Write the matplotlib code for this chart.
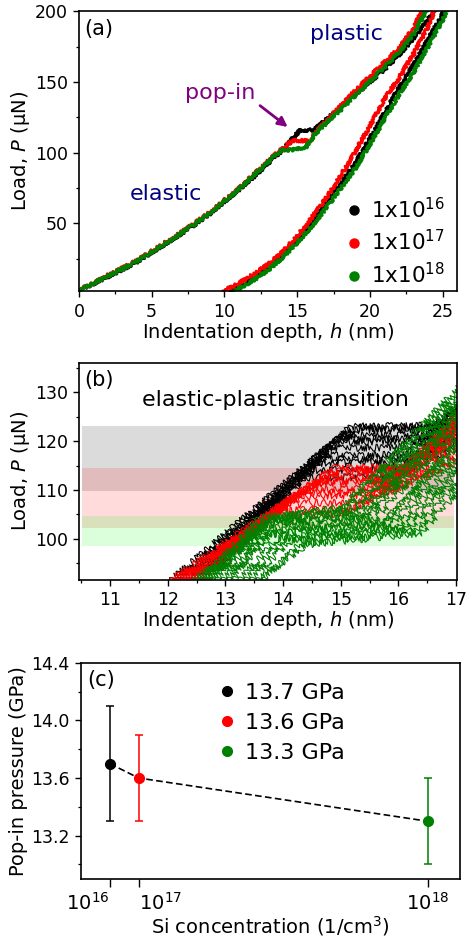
import matplotlib

matplotlib.use('Agg')
import matplotlib.pyplot as plt
from matplotlib.lines import Line2D
from matplotlib.ticker import MultipleLocator, FormatStrFormatter
from matplotlib.transforms import ScaledTranslation

plt.rcParams['font.family'] = ['DejaVu Sans']
plt.rcParams['mathtext.fontset'] = 'dejavusans'

colors = ['black', 'red', 'green']
doses = ['1x10$^{16}$', '1x10$^{17}$', '1x10$^{18}$']

# ---- (a) load-depth curves, loading branch ----
bk_load_h = [0, 1, 2, 3, 4, 5, 6, 7, 8, 9, 10, 11, 12, 13, 14, 14.6, 15.2, 16.1, 16.5, 17, 18, 19, 20, 21, 22, 23, 24, 24.4]
bk_load_P = [2.5, 7.5, 12.5, 17.5, 23, 29.5, 36, 42.5, 49.5, 57, 65.5, 74, 83, 92.5, 102, 109, 116, 116, 119, 123.5, 132, 141, 150, 159, 169, 181, 194, 201]
rd_load_h = [0, 1, 2, 3, 4, 5, 6, 7, 8, 9, 10, 11, 12, 13, 14, 14.7, 15.9, 16.3, 17, 18, 19, 20, 21, 22, 23, 23.6]
rd_load_P = [3, 8, 13.5, 18.5, 24, 30.5, 37, 43.5, 50.5, 58, 66.5, 75, 84.5, 94, 103.5, 108.5, 108.5, 115, 122, 133, 144, 154, 164, 174, 188, 201]
gn_load_h = [0, 1, 2, 3, 4, 5, 6, 7, 8, 9, 10, 11, 12, 13, 14, 14.4, 15.0, 15.6, 16.2, 17, 18, 19, 20, 21, 22, 23, 23.9]
gn_load_P = [2.8, 7.8, 13, 18, 23.5, 30, 36.5, 43, 50, 57.5, 66, 74.5, 84, 93.5, 102.5, 102, 102.5, 104, 113, 121, 130.5, 140.5, 150.5, 160.5, 171, 184, 201]

# ---- (a) unloading branch ----
bk_unl_h = [10.4, 11, 12, 13, 14, 15, 16, 17, 18, 19, 20, 21, 22, 23, 24, 25, 25.1]
bk_unl_P = [2, 5, 11.5, 19, 28, 38.5, 50.5, 64, 78.5, 93, 110, 128, 146, 162, 180, 198, 201]
rd_unl_h = [9.9, 11, 12, 13, 14, 15, 16, 17, 18, 19, 20, 21, 22, 23, 24, 24.45]
rd_unl_P = [2, 8, 14, 21, 30, 41, 54, 68, 84, 101, 119, 138, 153, 170, 189, 201]
gn_unl_h = [10.6, 11, 12, 13, 14, 15, 16, 17, 18, 19, 20, 21, 22, 23, 24, 25, 25.3]
gn_unl_P = [2, 4, 10, 17, 26, 36.5, 48, 61, 75, 89, 106, 124, 141, 157, 175, 194, 201]

# ---- (b) repeated loading traces around the pop-in ----
# start depth (P=91), pop-in load, depth before / after pop-in, load after pop-in, load at h=17
bk_h0 = [12.0, 12.1, 12.2, 12.3, 12.4, 12.5, 12.6, 12.3, 12.15, 12.45, 12.35, 12.55]
bk_P1 = [123.0, 122.2, 121.0, 119.8, 118.5, 117.0, 115.5, 114.0, 122.6, 120.4, 116.2, 112.5]
bk_h1 = [15.2, 15.1, 15.0, 14.9, 14.8, 14.7, 14.6, 14.5, 15.3, 14.95, 14.55, 14.4]
bk_h2 = [16.6, 16.5, 16.5, 16.4, 16.3, 16.2, 16.2, 16.1, 16.7, 16.45, 16.25, 16.0]
bk_P2 = [123.2, 122.4, 121.3, 120.0, 118.8, 117.3, 115.8, 114.3, 122.8, 120.6, 116.5, 112.8]
bk_Pe = [128, 127, 126.5, 125.5, 124.5, 123.5, 122, 121, 127.5, 126, 122.5, 119.5]

rd_h0 = [12.0, 12.1, 12.15, 12.2, 12.3, 12.35, 12.4, 12.5, 12.05, 12.25, 12.45, 12.6]
rd_P1 = [114.5, 113.5, 112.5, 111.3, 110.0, 108.7, 107.2, 105.8, 114.0, 111.8, 109.3, 104.8]
rd_h1 = [14.9, 14.8, 14.7, 14.5, 14.4, 14.2, 14.0, 13.9, 15.0, 14.6, 14.3, 13.8]
rd_h2 = [16.2, 16.0, 15.9, 15.8, 15.6, 15.5, 15.3, 15.2, 16.3, 15.9, 15.7, 15.0]
rd_P2 = [114.8, 113.8, 112.8, 111.6, 110.3, 109.0, 107.5, 106.1, 114.3, 112.1, 109.6, 105.1]
rd_Pe = [126, 125, 124, 122.5, 121, 120, 118.5, 117, 125.5, 123, 121, 116]

gn_h0 = [12.4, 12.5, 12.6, 12.7, 12.8, 12.9, 13.0, 13.2, 13.4, 13.6, 12.55, 12.75, 13.1, 13.3, 12.65, 13.5]
gn_P1 = [104.5, 104.0, 103.5, 103.0, 102.0, 101.5, 101.0, 100.0, 99.5, 99.0, 104.2, 102.6, 100.6, 99.8, 103.8, 98.8]
gn_h1 = [13.9, 13.8, 13.8, 13.7, 13.7, 13.8, 13.8, 13.9, 14.1, 14.3, 13.6, 13.5, 13.6, 14.0, 13.7, 14.4]
gn_h2 = [15.0, 15.2, 15.4, 15.5, 15.6, 15.8, 15.9, 16.0, 16.2, 16.3, 15.1, 15.45, 15.75, 16.1, 15.3, 16.4]
gn_P2 = [106.0, 105.5, 105.0, 104.5, 104.0, 103.5, 103.0, 102.5, 102.0, 101.5, 106.5, 104.8, 103.4, 102.2, 105.8, 101.2]
gn_Pe = [131, 129, 127, 125, 123, 121, 119, 117, 114, 112, 130, 126, 120, 115, 128, 110]

# pop-in load ranges (shaded bands)
band_lo = [109.7, 102.3, 98.6]
band_hi = [123.0, 114.5, 104.7]
band_colors = ['black', 'red', 'lime']

# ---- (c) pop-in pressure ----
si_conc = [1e16, 1e17, 1e18]
si_ticklabels = ['10$^{16}$', '10$^{17}$', '10$^{18}$']
popin_p = [13.7, 13.6, 13.3]
popin_err = [0.4, 0.3, 0.3]
popin_labels = ['13.7 GPa', '13.6 GPa', '13.3 GPa']

fig = plt.figure(figsize=(4.67, 9.4), dpi=100)
ax1 = fig.add_axes([0.169, 0.690, 0.810, 0.298])
ax2 = fig.add_axes([0.169, 0.383, 0.810, 0.231])
ax3 = fig.add_axes([0.173, 0.065, 0.812, 0.230])

for ax in (ax1, ax2, ax3):
    for s in ax.spines.values():
        s.set_linewidth(1.2)
    ax.tick_params(which='major', length=4.5, width=1, labelsize=12.5)
    ax.tick_params(which='minor', length=2.5, width=0.9)

# (a)
curves = [(bk_load_h, bk_load_P, bk_unl_h, bk_unl_P),
          (rd_load_h, rd_load_P, rd_unl_h, rd_unl_P),
          (gn_load_h, gn_load_P, gn_unl_h, gn_unl_P)]
for (lh, lp, uh, up), c in zip(curves, colors):
    for hh, pp in ((lh, lp), (uh, up)):
        ln, = ax1.plot(hh, pp, color=c, lw=2.2, marker='*', ms=2.5)
        ln.set_sketch_params(scale=1.5, length=3, randomness=3)
ax1.set_xlim(0, 26)
ax1.set_ylim(2, 200)
ax1.set_yticks([50, 100, 150, 200])
ax1.yaxis.set_minor_locator(MultipleLocator(25))
ax1.xaxis.set_major_locator(MultipleLocator(5))
ax1.xaxis.set_minor_locator(MultipleLocator(2.5))
ax1.set_xlabel('Indentation depth, $h$ (nm)', fontsize=14, labelpad=0)
ax1.set_ylabel('Load, $P$ (μN)', fontsize=14, labelpad=2)
ax1.text(0.015, 0.935, '(a)', transform=ax1.transAxes, fontsize=15, va='center')
ax1.text(6.0, 71, 'elastic', color='navy', fontsize=16, ha='center', va='center')
ax1.text(18.4, 184, 'plastic', color='navy', fontsize=16, ha='center', va='center')
ax1.text(9.7, 142, 'pop-in', color='purple', fontsize=16, ha='center', va='center')
ax1.annotate('', xy=(14.5, 117), xytext=(12.3, 134.5),
             arrowprops=dict(arrowstyle='-|>', color='purple', lw=2, mutation_scale=14))
handles = [Line2D([], [], ls='', marker='o', ms=6.5, color=c) for c in colors]
ax1.legend(handles, doses, loc='lower right', bbox_to_anchor=(1.02, -0.055), frameon=False,
           fontsize=15.5, handlelength=0.8, handletextpad=0.4, labelspacing=0.35)

# (b)
for lo, hi, c in zip(band_lo, band_hi, band_colors):
    ax2.axhspan(lo, hi, xmin=0.009, xmax=0.992, color=c, alpha=0.14, lw=0)
traces = [(bk_h0, bk_P1, bk_h1, bk_h2, bk_P2, bk_Pe),
          (rd_h0, rd_P1, rd_h1, rd_h2, rd_P2, rd_Pe),
          (gn_h0, gn_P1, gn_h1, gn_h2, gn_P2, gn_Pe)]
for (h0s, p1s, h1s, h2s, p2s, pes), c in zip(traces, colors):
    for h0, p1, h1, h2, p2, pe in zip(h0s, p1s, h1s, h2s, p2s, pes):
        ln, = ax2.plot([h0, h1, h2, 17.05], [91, p1, p2, pe], color=c, lw=0.8)
        ln.set_sketch_params(scale=3.5, length=6, randomness=5)
ax2.set_xlim(10.46, 17.02)
ax2.set_ylim(91.6, 136)
ax2.yaxis.set_major_locator(MultipleLocator(10))
ax2.yaxis.set_minor_locator(MultipleLocator(5))
ax2.xaxis.set_major_locator(MultipleLocator(1))
ax2.xaxis.set_minor_locator(MultipleLocator(0.5))
ax2.set_xlabel('Indentation depth, $h$ (nm)', fontsize=14, labelpad=0)
ax2.set_ylabel('Load, $P$ (μN)', fontsize=14, labelpad=2)
ax2.text(0.015, 0.92, '(b)', transform=ax2.transAxes, fontsize=15, va='center')
ax2.text(13.86, 128.4, 'elastic-plastic transition', fontsize=16, ha='center', va='center')

# (c)
ax3.plot(si_conc, popin_p, color='black', ls='--', lw=1.2, dashes=(4, 2))
for x, y, e, c in zip(si_conc, popin_p, popin_err, colors):
    ax3.errorbar([x], [y], yerr=[e], fmt='o', color=c, ms=7, capsize=3, elinewidth=1.1, capthick=1.1)
ax3.set_xlim(-0.08e18, 1.10e18)
ax3.set_ylim(12.9, 14.4)
ax3.tick_params(axis='x', which='major', length=6, labelsize=14)
ax3.set_xticks(si_conc)
ax3.set_xticklabels(si_ticklabels)
ax3.set_yticks([13.2, 13.6, 14.0, 14.4])
ax3.yaxis.set_minor_locator(MultipleLocator(0.2))
ax3.yaxis.set_major_formatter(FormatStrFormatter('%.1f'))
ax3.set_xlabel('Si concentration (1/cm$^3$)', fontsize=14, labelpad=0)
ax3.set_ylabel('Pop-in pressure (GPa)', fontsize=14, labelpad=2)
ax3.text(0.018, 0.921, '(c)', transform=ax3.transAxes, fontsize=15, va='center')
handles = [Line2D([], [], ls='', marker='o', ms=7, color=c) for c in colors]
ax3.legend(handles, popin_labels, loc='upper left', bbox_to_anchor=(0.31, 1.0), frameon=False,
           fontsize=16, handlelength=0.8, handletextpad=0.4, labelspacing=0.45)
# nudge the two crowded tick labels apart
for tick, ha in zip(ax3.xaxis.get_major_ticks(), ['right', 'left', 'center']):
    tick.label1.set_horizontalalignment(ha)

fig.savefig('out.png', dpi=100)
